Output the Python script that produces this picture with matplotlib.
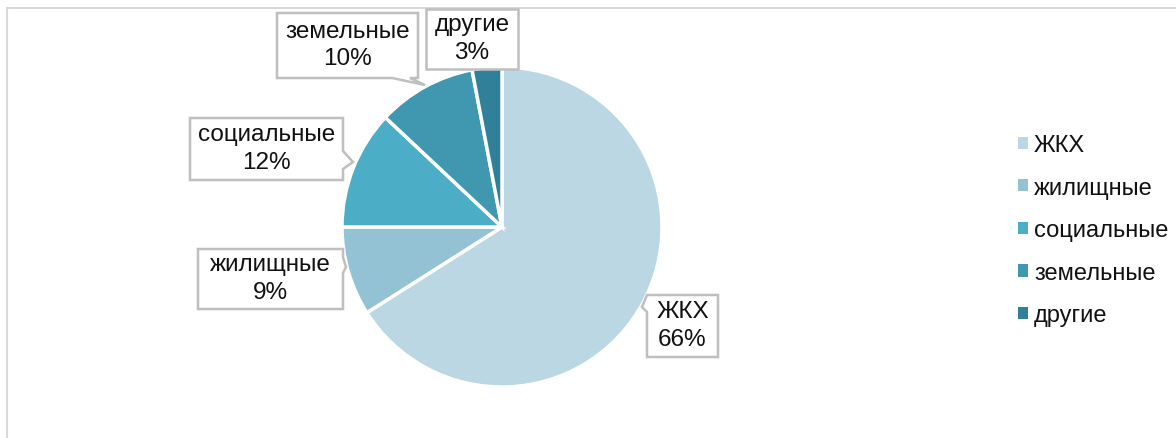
import matplotlib.pyplot as plt
from matplotlib.patches import Patch, Rectangle, Polygon

plt.rcParams['font.family'] = ['Liberation Sans', 'DejaVu Sans']

# данные
categories = ["ЖКХ", "жилищные", "социальные", "земельные", "другие"]
shares = [66, 9, 12, 10, 3]
colors = ["#BAD7E3", "#93C2D4", "#4BADC6", "#3F98AF", "#31809A"]

W, H = 1176, 439
fig = plt.figure(figsize=(W / 100, H / 100), dpi=100)
ax = fig.add_axes([0, 0, 1, 1])

# pie centre / radius in pixel coordinates (y up)
cx, cy, R = 502, H - 228, 160

wedges, _ = ax.pie(shares, colors=colors, startangle=90, counterclock=False,
                   center=(cx, cy), radius=R, frame=True,
                   wedgeprops=dict(edgecolor="white", linewidth=2.5))

ax.set_xlim(0, W)
ax.set_ylim(0, H)
ax.set_aspect("auto")
ax.axis("off")

# chart area frame (cropped)
ax.add_patch(Rectangle((7, -20), W + 20, H - 9 + 20, fill=False,
                       edgecolor="#D9D9D9", linewidth=1.5))

# callout boxes (pixels from top): box (x0, y0, x1, y1), pointer side, base (a, b), tip
callouts = {
    "ЖКХ": ((647, 296, 718, 358), "left", (296, 313), (642, 308)),
    "жилищные": ((198, 250, 343, 310), "right", (258, 274), (346, 268)),
    "социальные": ((190, 119, 343, 181), "right", (152, 170), (353, 163)),
    "земельные": ((277, 14, 418, 79), "bottom", (392, 410), (425, 86)),
    "другие": ((426, 10, 518, 70), None, None, None),
}


def box_path(box, side, base, tip):
    x0, y0, x1, y1 = box
    pts = [(x0, y0), (x1, y0)]
    if side == "right":
        pts += [(x1, base[0]), tip, (x1, base[1])]
    pts += [(x1, y1)]
    if side == "bottom":
        pts += [(base[1], y1), tip, (base[0], y1)]
    pts += [(x0, y1)]
    if side == "left":
        pts += [(x0, base[1]), tip, (x0, base[0])]
    return [(x, H - y) for x, y in pts]


for name, val in zip(categories, shares):
    box, side, base, tip = callouts[name]
    ax.add_patch(Polygon(box_path(box, side, base, tip), closed=True,
                         facecolor="white", edgecolor="#BFBFBF", linewidth=1.8,
                         joinstyle="miter", zorder=3))
    ax.text((box[0] + box[2]) / 2, H - (box[1] + box[3]) / 2 + 1,
            f"{name}\n{val}%", ha="center", va="center", fontsize=17.5,
            linespacing=1.3, color="#111111", zorder=4)

handles = [Patch(facecolor=c, edgecolor="none") for c in colors]
ax.legend(handles, categories, loc="upper left", bbox_to_anchor=(997, H - 114),
          bbox_transform=ax.transData, frameon=False, fontsize=17,
          handlelength=0.42, handleheight=0.42, handletextpad=0.25,
          labelspacing=0.87, labelcolor="#111111")

fig.savefig("out.png", dpi=100)
